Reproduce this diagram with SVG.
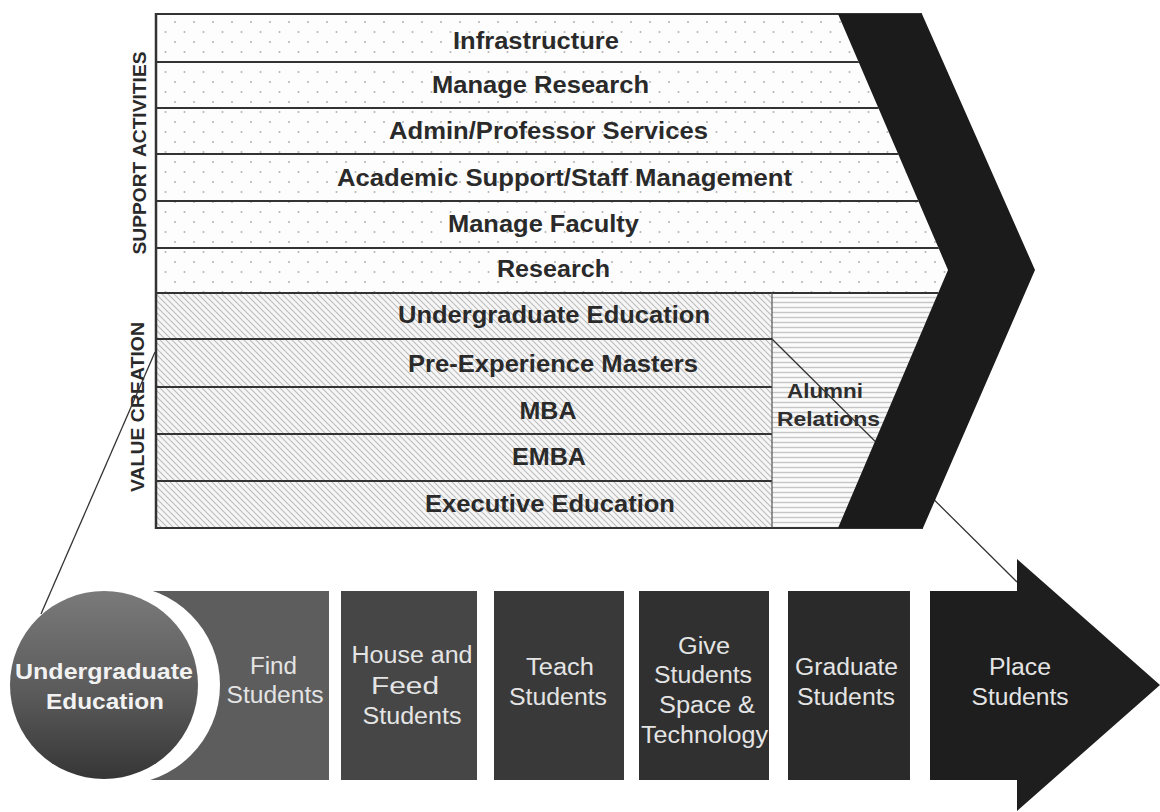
<svg xmlns="http://www.w3.org/2000/svg" width="1160" height="812" viewBox="0 0 1160 812">
  <style>
    .row { font-family: "Liberation Sans", Arial, sans-serif; font-weight: bold; font-size: 23.5px; fill: #2a2a2a; text-anchor: middle; }
    .side { font-family: "Liberation Sans", Arial, sans-serif; font-weight: bold; font-size: 18.5px; fill: #2a2a2a; text-anchor: middle; }
    .alum { font-family: "Liberation Sans", Arial, sans-serif; font-weight: bold; font-size: 21px; fill: #2e2e2e; text-anchor: middle; }
    .step { font-family: "Liberation Sans", Arial, sans-serif; font-size: 23.5px; fill: #e4e4e4; text-anchor: middle; }
    .hub { font-family: "Liberation Sans", Arial, sans-serif; font-weight: bold; font-size: 22px; fill: #f2f2f2; text-anchor: middle; }
    .rule { stroke: #333; stroke-width: 2; fill: none; }
    .link { stroke: #333; stroke-width: 1.3; fill: none; }
  </style>
  <defs>
    <pattern id="dots" width="19" height="20" patternUnits="userSpaceOnUse">
      <rect width="19" height="20" fill="#fdfdfd"/>
      <circle cx="4" cy="2" r="1" fill="#b3b3b3"/>
      <circle cx="13.5" cy="12" r="1" fill="#b3b3b3"/>
    </pattern>
    <pattern id="hatch" width="6" height="6" patternUnits="userSpaceOnUse">
      <rect width="6" height="6" fill="#f6f6f6"/>
      <path d="M-1,-1 L7,7 M5,-1 L7,1 M-1,5 L1,7" stroke="#bdbdbd" stroke-width="1.1"/>
    </pattern>
    <pattern id="stripes" width="10" height="5" patternUnits="userSpaceOnUse">
      <rect width="10" height="5" fill="#fbfbfb"/>
      <line x1="0" y1="2.5" x2="10" y2="2.5" stroke="#c6c6c6" stroke-width="1.4"/>
    </pattern>
    <clipPath id="frameClip">
      <polygon points="156,14 838,14 948,270 838,528 156,528"/>
    </clipPath>
    <linearGradient id="hubGrad" x1="0" y1="0" x2="0" y2="1">
      <stop offset="0" stop-color="#7a7a7a"/>
      <stop offset="0.55" stop-color="#5a5a5a"/>
      <stop offset="1" stop-color="#363636"/>
    </linearGradient>
  </defs>

  <rect width="1160" height="812" fill="#ffffff"/>

  <!-- value chain frame: support activities and value creation rows -->
  <g id="frame" clip-path="url(#frameClip)">
    <rect x="156" y="14" width="800" height="279" fill="url(#dots)"/>
    <rect x="156" y="293" width="616" height="235" fill="url(#hatch)"/>
    <rect x="772" y="293" width="200" height="235" fill="url(#stripes)"/>
    <path class="rule" d="M156,62H1000 M156,108H1000 M156,154H1000 M156,201H1000 M156,248H1000 M156,293H1000"/>
    <path class="rule" d="M156,339H772 M156,387H772 M156,434H772 M156,481H772"/>
    <line x1="772" y1="293" x2="772" y2="528" stroke="#555" stroke-width="1.2"/>
  </g>
  <path class="rule" d="M156,14H922 M156,528H923"/>
  <line x1="156" y1="13" x2="156" y2="529" stroke="#333" stroke-width="2.5"/>

  <g id="support-infrastructure"><text class="row" x="536" y="49" textLength="166" lengthAdjust="spacingAndGlyphs">Infrastructure</text></g>
  <g id="support-manage-research"><text class="row" x="540.5" y="93" textLength="217" lengthAdjust="spacingAndGlyphs">Manage Research</text></g>
  <g id="support-admin"><text class="row" x="548.5" y="139" textLength="319" lengthAdjust="spacingAndGlyphs">Admin/Professor Services</text></g>
  <g id="support-academic"><text class="row" x="564.5" y="186" textLength="455" lengthAdjust="spacingAndGlyphs">Academic Support/Staff Management</text></g>
  <g id="support-faculty"><text class="row" x="543.5" y="232" textLength="191" lengthAdjust="spacingAndGlyphs">Manage Faculty</text></g>
  <g id="support-research"><text class="row" x="553.5" y="277" textLength="113" lengthAdjust="spacingAndGlyphs">Research</text></g>

  <g id="value-undergrad"><text class="row" x="554" y="323" textLength="312" lengthAdjust="spacingAndGlyphs">Undergraduate Education</text></g>
  <g id="value-preexp"><text class="row" x="553" y="372" textLength="290" lengthAdjust="spacingAndGlyphs">Pre-Experience Masters</text></g>
  <g id="value-mba"><text class="row" x="548" y="419" textLength="57" lengthAdjust="spacingAndGlyphs">MBA</text></g>
  <g id="value-emba"><text class="row" x="549" y="465" textLength="74" lengthAdjust="spacingAndGlyphs">EMBA</text></g>
  <g id="value-exec"><text class="row" x="550" y="512" textLength="250" lengthAdjust="spacingAndGlyphs">Executive Education</text></g>

  <g id="alumni">
    <text class="alum" x="825" y="398" textLength="76" lengthAdjust="spacingAndGlyphs">Alumni</text>
    <text class="alum" x="828.5" y="426" textLength="103" lengthAdjust="spacingAndGlyphs">Relations</text>
  </g>

  <g id="side-labels">
    <text class="side" transform="translate(145.5,153) rotate(-90)" textLength="203" lengthAdjust="spacingAndGlyphs">SUPPORT ACTIVITIES</text>
    <text class="side" transform="translate(143.5,407) rotate(-90)" textLength="170" lengthAdjust="spacingAndGlyphs">VALUE CREATION</text>
  </g>

  <!-- connectors -->
  <g id="connectors">
    <line class="link" x1="155" y1="352" x2="41" y2="614"/>
    <line class="link" x1="771" y1="338" x2="1017" y2="582"/>
  </g>

  <!-- margin chevron -->
  <g id="margin-chevron">
    <polygon points="838,14 922,14 1035,270 923,528 838,528 948,270" fill="#1b1b1b"/>
  </g>

  <!-- undergraduate process chain -->
  <g id="step-find">
    <rect x="120" y="591" width="209" height="189" fill="#5d5d5d"/>
    <text class="step" x="273.5" y="674" textLength="47" lengthAdjust="spacingAndGlyphs">Find</text>
    <text class="step" x="275" y="703" textLength="97" lengthAdjust="spacingAndGlyphs">Students</text>
  </g>
  <g id="hub-undergrad">
    <circle cx="120.5" cy="685" r="99.5" fill="#ffffff"/>
    <circle cx="104" cy="685" r="94" fill="url(#hubGrad)"/>
    <text class="hub" x="104" y="679" textLength="178" lengthAdjust="spacingAndGlyphs">Undergraduate</text>
    <text class="hub" x="105" y="709" textLength="118" lengthAdjust="spacingAndGlyphs">Education</text>
  </g>
  <g id="step-house">
    <rect x="341" y="591" width="136" height="189" fill="#464646"/>
    <text class="step" x="412" y="663" textLength="121" lengthAdjust="spacingAndGlyphs">House and</text>
    <text class="step" x="405" y="694" textLength="68" lengthAdjust="spacingAndGlyphs">Feed</text>
    <text class="step" x="412" y="724" textLength="99" lengthAdjust="spacingAndGlyphs">Students</text>
  </g>
  <g id="step-teach">
    <rect x="494" y="591" width="130" height="189" fill="#393939"/>
    <text class="step" x="560" y="675" textLength="68" lengthAdjust="spacingAndGlyphs">Teach</text>
    <text class="step" x="558" y="705" textLength="98" lengthAdjust="spacingAndGlyphs">Students</text>
  </g>
  <g id="step-space">
    <rect x="639" y="591" width="130" height="189" fill="#303030"/>
    <text class="step" x="704" y="654" textLength="52" lengthAdjust="spacingAndGlyphs">Give</text>
    <text class="step" x="703" y="683" textLength="98" lengthAdjust="spacingAndGlyphs">Students</text>
    <text class="step" x="707" y="713" textLength="96" lengthAdjust="spacingAndGlyphs">Space &amp;</text>
    <text class="step" x="704.5" y="743" textLength="127" lengthAdjust="spacingAndGlyphs">Technology</text>
  </g>
  <g id="step-graduate">
    <rect x="788" y="591" width="122" height="189" fill="#2a2a2a"/>
    <text class="step" x="846.5" y="675" textLength="103" lengthAdjust="spacingAndGlyphs">Graduate</text>
    <text class="step" x="846" y="705" textLength="98" lengthAdjust="spacingAndGlyphs">Students</text>
  </g>
  <g id="step-place">
    <polygon points="930,591 1017,591 1017,559 1160,685 1017,811 1017,780 930,780" fill="#1e1e1e"/>
    <text class="step" x="1020" y="675" textLength="62" lengthAdjust="spacingAndGlyphs">Place</text>
    <text class="step" x="1020" y="705" textLength="97" lengthAdjust="spacingAndGlyphs">Students</text>
  </g>
</svg>
